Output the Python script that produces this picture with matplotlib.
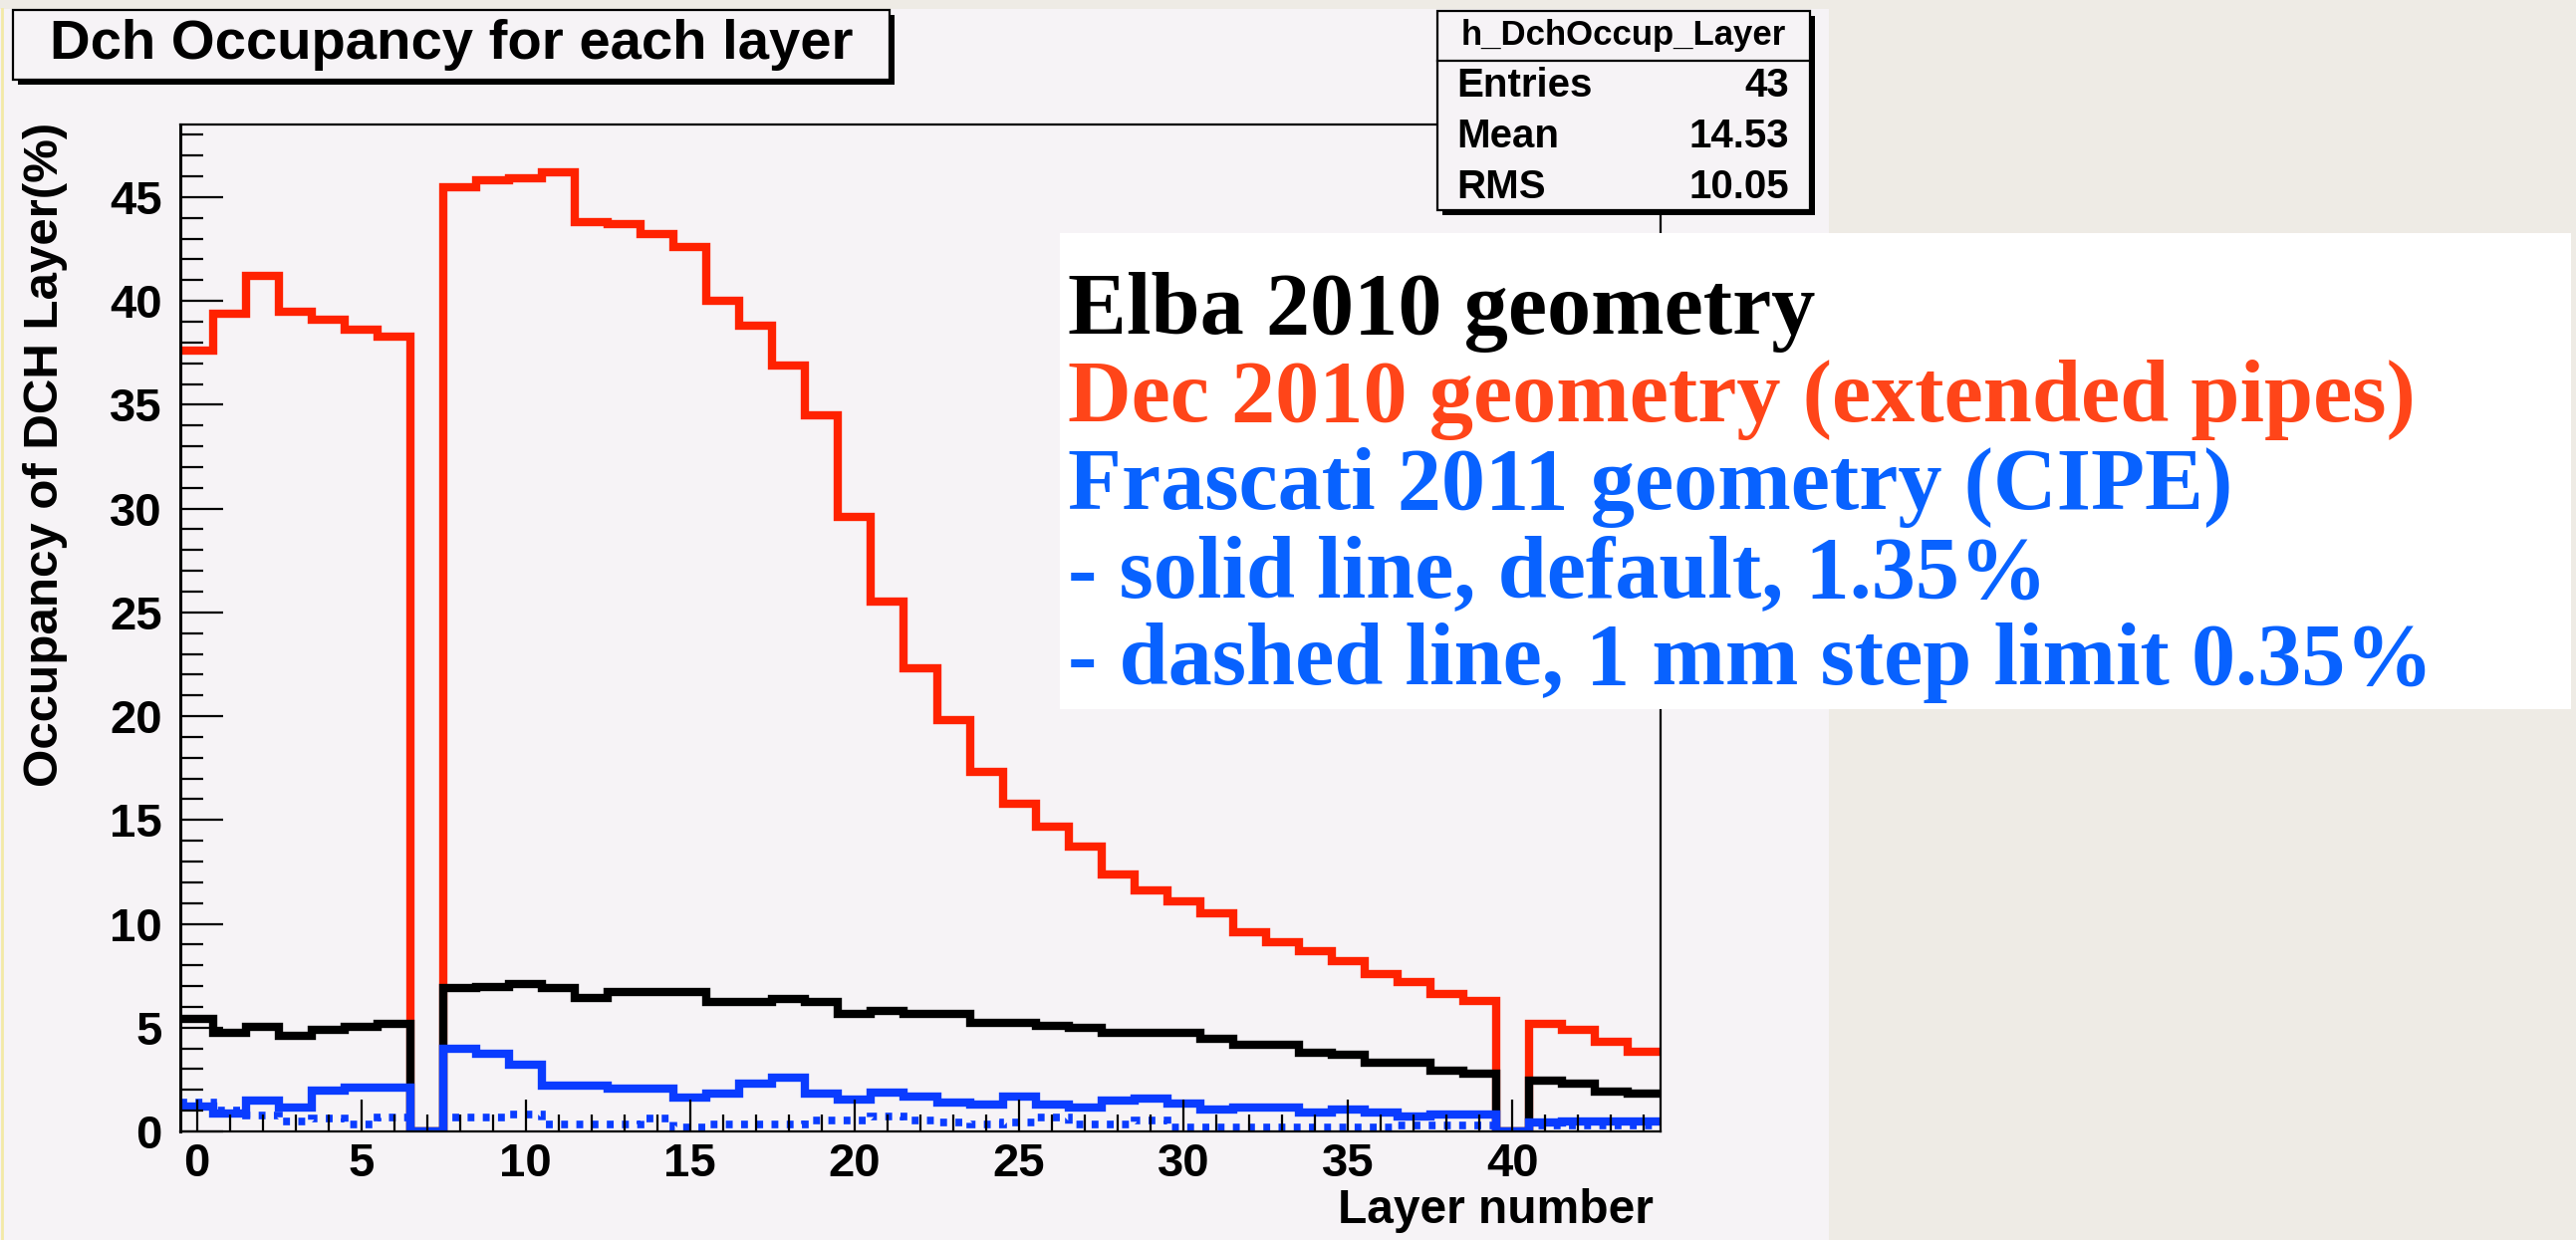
import numpy as np
import matplotlib.pyplot as plt
from matplotlib.patches import Rectangle
from matplotlib.lines import Line2D
from matplotlib.ticker import MultipleLocator

# Occupancy (%) per DCH layer
layers = np.arange(45)
elba_2010 = [5.4, 4.75, 5.05, 4.6, 4.9, 5.05, 5.2, 0.0, 6.9, 6.95,
             7.1, 6.9, 6.45, 6.7, 6.7, 6.7, 6.25, 6.25, 6.4, 6.25,
             5.65, 5.8, 5.65, 5.65, 5.25, 5.25, 5.1, 5.0, 4.75, 4.75,
             4.75, 4.45, 4.15, 4.15, 3.8, 3.7, 3.3, 3.3, 2.95, 2.8,
             0.0, 2.45, 2.3, 1.9, 1.8]
dec_2010 = [37.6, 39.4, 41.2, 39.5, 39.1, 38.6, 38.3, 0.0, 45.5, 45.8,
            45.9, 46.2, 43.8, 43.7, 43.2, 42.6, 40.0, 38.8, 36.9, 34.5,
            29.6, 25.5, 22.3, 19.8, 17.3, 15.8, 14.7, 13.7, 12.4, 11.6,
            11.1, 10.5, 9.6, 9.1, 8.7, 8.2, 7.6, 7.2, 6.6, 6.3,
            0.0, 5.2, 4.9, 4.3, 3.85]
frascati_default = [1.2, 0.85, 1.5, 1.15, 1.95, 2.1, 2.1, 0.0, 4.0, 3.75,
                    3.2, 2.2, 2.2, 2.05, 2.05, 1.65, 1.8, 2.3, 2.6, 1.8,
                    1.55, 1.85, 1.7, 1.4, 1.3, 1.7, 1.3, 1.15, 1.5, 1.6,
                    1.35, 1.05, 1.15, 1.15, 0.9, 1.05, 0.9, 0.7, 0.8, 0.8,
                    0.0, 0.45, 0.5, 0.5, 0.5]
frascati_step = [1.4, 1.0, 0.75, 0.5, 0.6, 0.35, 0.65, 0.0, 0.65, 0.65,
                 0.8, 0.35, 0.35, 0.35, 0.6, 0.2, 0.35, 0.35, 0.35, 0.55,
                 0.55, 0.7, 0.55, 0.45, 0.35, 0.45, 0.65, 0.35, 0.35, 0.55,
                 0.2, 0.2, 0.2, 0.2, 0.2, 0.2, 0.2, 0.28, 0.28, 0.28,
                 0.0, 0.28, 0.28, 0.28, 0.28]

legend_lines = ["Elba 2010 geometry",
                "Dec 2010 geometry (extended pipes)",
                "Frascati 2011 geometry (CIPE)",
                "- solid line, default, 1.35%",
                "- dashed line, 1 mm step limit 0.35%"]
legend_colors = ["black", "#ff4519", "#0862ff", "#0862ff", "#0862ff"]

stats_names = ["Entries", "Mean", "RMS"]
stats_values = ["43", "14.53", "10.05"]

W, H = 2586, 1245
SANS = "Liberation Sans"
SERIF = "Liberation Serif"
PINK = "#f6f3f6"


def fx(px):
    return px / W


def fy(py):
    return 1 - py / H


def pave(x0, y0, x1, y1, color=PINK, shadow=True, z=5):
    # ROOT style box with drop shadow, pixel coords from top-left
    if shadow:
        fig.patches.append(Rectangle((fx(x0 + 5), fy(y1 + 5)), fx(x1 - x0), (y1 - y0) / H,
                                     transform=fig.transFigure, facecolor="black",
                                     edgecolor="none", zorder=z))
    fig.patches.append(Rectangle((fx(x0), fy(y1)), fx(x1 - x0), (y1 - y0) / H,
                                 transform=fig.transFigure, facecolor=color,
                                 edgecolor="black", linewidth=1.6, zorder=z + 0.1))


fig = plt.figure(figsize=(W / 100, H / 100), dpi=100, facecolor="#eeebe5")

# ROOT canvas area
fig.patches.append(Rectangle((0, 0), fx(1836), fy(9), transform=fig.transFigure,
                             facecolor=PINK, edgecolor="none", zorder=-5))
fig.lines.append(Line2D([fx(1.5), fx(1.5)], [0, fy(9)], transform=fig.transFigure,
                        color="#f3e9a6", lw=2))

ax = fig.add_axes([fx(181), fy(1136), fx(1667 - 181), (1136 - 125) / H])
ax.set_facecolor(PINK)

edges = np.append(layers - 0.5, layers[-1] + 0.5)
style = dict(baseline=None, joinstyle="miter")
ax.stairs(dec_2010, edges, color="#ff2200", lw=6, **style)
ax.stairs(elba_2010, edges, color="black", lw=6, **style)
ax.stairs(frascati_default, edges, color="#0a3cff", lw=6, **style)
ax.stairs(frascati_step, edges, color="#0a3cff", lw=5.5, linestyle=(0, (0.9, 1.1)), **style)

ax.set_xlim(-0.5, 44.5)
ax.set_ylim(0, 48.5)
ax.xaxis.set_major_locator(MultipleLocator(5))
ax.xaxis.set_minor_locator(MultipleLocator(1))
ax.yaxis.set_major_locator(MultipleLocator(5))
ax.yaxis.set_minor_locator(MultipleLocator(1))
ax.tick_params(axis="both", which="both", direction="in", width=1.6, colors="black")
ax.tick_params(axis="y", which="major", length=31, pad=13)
ax.tick_params(axis="y", which="minor", length=16.5)
ax.tick_params(axis="x", which="major", length=23, pad=8)
ax.tick_params(axis="x", which="minor", length=12)
for lab in ax.get_xticklabels() + ax.get_yticklabels():
    lab.set_fontfamily(SANS)
    lab.set_fontweight("bold")
    lab.set_fontsize(34)
for side in ["top", "right", "bottom"]:
    ax.spines[side].set_linewidth(1.6)
ax.spines["left"].set_linewidth(2.2)

fig.text(fx(46), fy(123), "Occupancy of DCH Layer(%)", rotation=90, ha="center", va="top",
         family=SANS, weight="bold", fontsize=35.5)
fig.text(fx(1660), fy(1215), "Layer number", ha="right", va="center",
         family=SANS, weight="bold", fontsize=34.5)

# title box
pave(13, 10, 893, 80)
fig.text(fx(453), fy(45), "Dch Occupancy for each layer", ha="center", va="center",
         family=SANS, weight="bold", fontsize=40.5, zorder=7)

# stats box
pave(1443, 11, 1817, 211)
fig.lines.append(Line2D([fx(1443), fx(1817)], [fy(61), fy(61)], transform=fig.transFigure,
                        color="black", lw=1.6, zorder=6))
fig.text(fx(1630), fy(35), "h_DchOccup_Layer", ha="center", va="center",
         family=SANS, weight="bold", fontsize=25, zorder=7)
for i, (name, val) in enumerate(zip(stats_names, stats_values)):
    yy = fy(86 + i * 51)
    fig.text(fx(1462), yy, name, ha="left", va="center", family=SANS, weight="bold",
             fontsize=29, zorder=7)
    fig.text(fx(1796), yy, val, ha="right", va="center", family=SANS, weight="bold",
             fontsize=29, zorder=7)

# white legend box
fig.patches.append(Rectangle((fx(1064), fy(712)), fx(2581 - 1064), (712 - 234) / H,
                             transform=fig.transFigure, facecolor="white",
                             edgecolor="none", zorder=8))
for i, (line, col) in enumerate(zip(legend_lines, legend_colors)):
    fig.text(fx(1072), fy(335 + i * 88), line, ha="left", va="baseline", color=col,
             family=SERIF, weight="bold", fontsize=63.5, zorder=9)

fig.savefig("out.png", dpi=100, facecolor=fig.get_facecolor())
